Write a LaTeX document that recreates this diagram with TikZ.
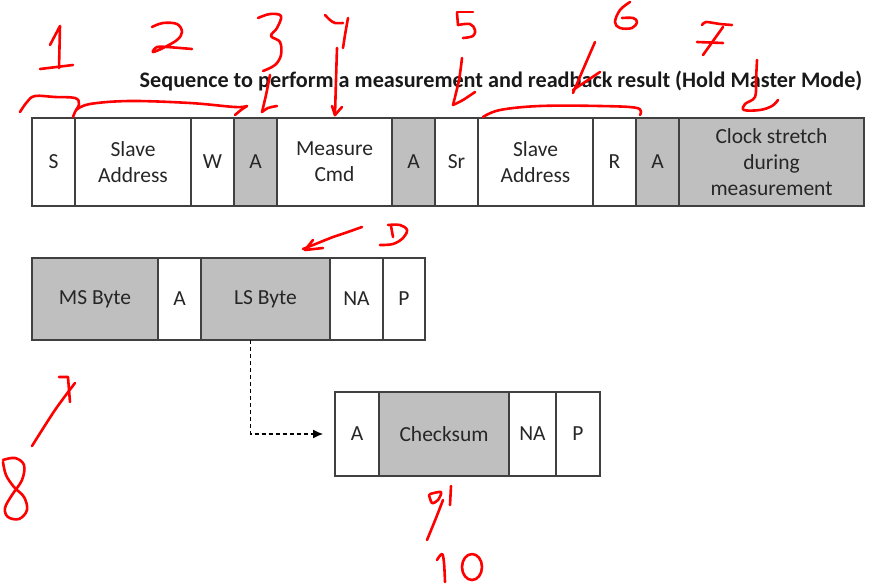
\documentclass[tikz,border=0pt]{standalone}
\usepackage{fontspec}
\setmainfont{Carlito}
\usetikzlibrary{arrows.meta}
\definecolor{cellline}{HTML}{404040}
\definecolor{cellgray}{HTML}{BFBFBF}
\definecolor{celltext}{HTML}{262626}
\definecolor{pen}{HTML}{FF0000}
\tikzset{
  cell/.style={draw=cellline, line width=1.3pt, inner sep=0pt, outer sep=0pt,
    anchor=north west, align=center, text=celltext,
    font=\fontsize{21.5pt}{26pt}\selectfont},
  shaded/.style={fill=cellgray},
  redpen/.style={draw=pen, line width=2.6pt, line cap=round, line join=round},
}
\begin{document}
\begin{tikzpicture}[x=1pt,y=-1pt]
\useasboundingbox (0,0) rectangle (880,584);
% title
\node[font=\fontsize{22.2pt}{26pt}\selectfont\bfseries, text=black!90, anchor=base] (title) at (501,87.5)
  {Sequence to perform a measurement and readback result (Hold Master Mode)};
% row 1
\begin{scope}[every node/.append style={minimum height=88pt}]
\node[cell, minimum width=43pt] (s) at (32,118) {S};
\node[cell, minimum width=116pt] (sa1) at (s.north east) {Slave\\Address};
\node[cell, minimum width=43pt] (w) at (sa1.north east) {W};
\node[cell, shaded, minimum width=43pt] (a1) at (w.north east) {A};
\node[cell, minimum width=115pt] (mc) at (a1.north east) {Measure\\Cmd};
\node[cell, shaded, minimum width=43pt] (a2) at (mc.north east) {A};
\node[cell, minimum width=43pt] (sr) at (a2.north east) {Sr};
\node[cell, minimum width=115pt] (sa2) at (sr.north east) {Slave\\Address};
\node[cell, minimum width=43pt] (r) at (sa2.north east) {R};
\node[cell, shaded, minimum width=43pt] (a3) at (r.north east) {A};
\node[cell, shaded, minimum width=185pt] (cs) at (a3.north east) {Clock stretch\\during\\measurement};
\end{scope}
% row 2
\begin{scope}[every node/.append style={minimum height=82pt}]
\node[cell, shaded, minimum width=126pt] (ms) at (32,258) {MS Byte};
\node[cell, minimum width=43pt] (a4) at (ms.north east) {A};
\node[cell, shaded, minimum width=129pt] (ls) at (a4.north east) {LS Byte};
\node[cell, minimum width=53pt] (na1) at (ls.north east) {NA};
\node[cell, minimum width=42pt] (p1) at (na1.north east) {P};
\end{scope}
% row 3
\begin{scope}[every node/.append style={minimum height=84pt}]
\node[cell, minimum width=44pt] (a5) at (335,392) {A};
\node[cell, shaded, minimum width=130pt] (ck) at (a5.north east) {Checksum};
\node[cell, minimum width=47pt] (na2) at (ck.north east) {NA};
\node[cell, minimum width=44pt] (p2) at (na2.north east) {P};
\end{scope}
% dashed connector
\draw[line width=1.1pt, dash pattern=on 4pt off 3pt, -{Latex[length=10pt,width=9pt]}, shorten >=12pt]
  ([xshift=-14.8pt]ls.south) |- (a5.west);
% red annotations
% 1
\draw[redpen] (50,45) -- (60,26) -- (59,68);
\draw[redpen] (40,69) -- (73,65);
% 2
\draw[redpen] plot[smooth, tension=0.6] coordinates {(152,27) (163,23) (177,24) (182,32) (177,40) (163,48) (153,52) (157,47) (167,47) (192,49)};
% 3
\draw[redpen] plot[smooth, tension=0.6] coordinates {(258,18) (270,14) (281,16) (277,28) (271,36) (280,42) (281,55) (275,65) (263,71)};
\draw[redpen] plot[smooth] coordinates {(270,75) (266,95) (262,112)};
\draw[redpen] plot[smooth] coordinates {(262,112) (268,108) (277,106)};
% 4
\draw[redpen] plot[smooth] coordinates {(325,15) (330,20) (335,23) (343,23)};
\draw[redpen] plot[smooth] coordinates {(348,18) (345,35) (343,48)};
\draw[redpen] plot[smooth] coordinates {(337,48) (336,80) (335,115)};
\draw[redpen] (332,106) -- (335,115) -- (342,107);
% left bracket
\draw[redpen] plot[smooth, tension=0.6] coordinates {(20,112) (27,102) (35,96) (55,97) (75,98) (79,104) (75,112) (73,117)};
\draw[redpen] plot[smooth, tension=0.6] coordinates {(76,110) (90,104) (130,101) (190,103) (235,107) (247,106)};
\draw[redpen] plot[smooth] coordinates {(235,115) (241,110) (247,106)};
% 5
\draw[redpen] (457,12) -- (473,12);
\draw[redpen] (457,13) -- (458,25);
\draw[redpen] plot[smooth, tension=0.6] coordinates {(458,25) (470,24) (475,30) (473,36) (463,38)};
\draw[redpen] plot[smooth] coordinates {(462,58) (459,80) (453,105)};
\draw[redpen] plot[smooth] coordinates {(453,105) (463,100) (475,92)};
% 6
\draw[redpen] plot[smooth, tension=0.6] coordinates {(630,2) (620,10) (615,22) (620,28) (632,28) (637,22) (633,18) (622,18)};
\draw[redpen] plot[smooth] coordinates {(595,42) (585,65) (573,93)};
\draw[redpen] plot[smooth] coordinates {(600,72) (585,82) (573,90)};
% right bracket
\draw[redpen] plot[smooth, tension=0.6] coordinates {(483,117) (500,110) (540,106) (600,106) (637,108) (640,115)};
% 7
\draw[redpen] plot[smooth] coordinates {(702,25) (706,22) (720,24) (732,25)};
\draw[redpen] (723,27) -- (703,55);
\draw[redpen] (697,42) -- (723,43);
\draw[redpen] plot[smooth, tension=0.6] coordinates {(757,60) (756,80) (755,97) (745,104) (744,110) (760,110) (772,106) (778,100)};
% arrow near D
\draw[redpen] plot[smooth] coordinates {(362,227) (345,233) (333,237) (318,243) (303,249)};
\draw[redpen] (313,240) -- (305,250) -- (323,248);
% D
\draw[redpen] plot[smooth, tension=0.6] coordinates {(380,245) (393,244) (403,238) (407,230) (400,225) (388,225)};
\draw[redpen] (391,226) -- (393,237);
% lower 7
\draw[redpen] (59,377) -- (68,377) -- (69,390) -- (70,402);
\draw[redpen] plot[smooth] coordinates {(75,383) (55,410) (32,446)};
% 8
\draw[redpen] plot[smooth, tension=0.6] coordinates {(3,460) (15,458) (24,465) (22,480) (12,495) (5,508) (8,517) (19,519) (27,510) (24,497) (14,487) (6,475) (3,462)};
% 9
\draw[redpen] plot[smooth, tension=0.5] coordinates {(430,494) (441,492) (438,500) (432,503) (429,495)};
\draw[redpen] (451,486) -- (450,505);
\draw[redpen] plot[smooth] coordinates {(443,500) (436,518) (427,540)};
% 10
\draw[redpen] plot[smooth, tension=0.6] coordinates {(437,560) (442,554) (444,563) (445,582)};
\draw[redpen] (472,567) ellipse [x radius=10, y radius=13];
\end{tikzpicture}
\end{document}
